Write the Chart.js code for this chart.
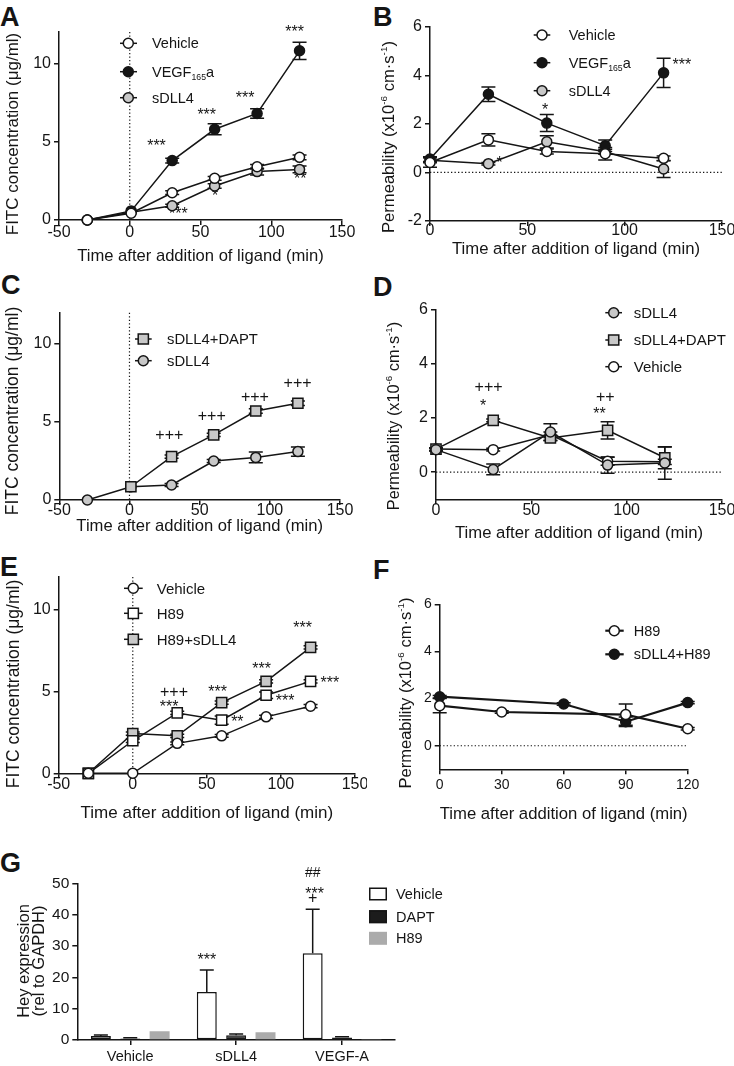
<!DOCTYPE html>
<html><head><meta charset="utf-8">
<script src="https://cdn.jsdelivr.net/npm/chart.js@4.4.1/dist/chart.umd.min.js"></script>
<style>
html,body{margin:0;padding:0;background:#fff;}
body{position:relative;width:734px;height:1066px;overflow:hidden;}
canvas{position:absolute;}
.pl{position:absolute;font:bold 27px/27px "Liberation Sans",Arial,sans-serif;color:#151515;}
</style></head><body>
<div class="pl" style="left:0px;top:3.5px">A</div>
<div class="pl" style="left:373px;top:3.5px">B</div>
<div class="pl" style="left:1px;top:271.5px">C</div>
<div class="pl" style="left:373px;top:273.5px">D</div>
<div class="pl" style="left:0px;top:554px">E</div>
<div class="pl" style="left:373px;top:557px">F</div>
<div class="pl" style="left:0px;top:850px">G</div>
<canvas id="cA"></canvas><canvas id="cB"></canvas>
<canvas id="cC"></canvas><canvas id="cD"></canvas>
<canvas id="cE"></canvas><canvas id="cF"></canvas>
<canvas id="cG"></canvas>
<script>
// ================= DATA =================
const TIME_A = [-30, 1, 30, 60, 90, 120];
const TIME_C = [-30, 1, 30, 60, 90, 120];
const TIME_E = [-30, 0, 30, 60, 90, 120];
const TIME_PERM = [0, 30, 60, 90, 120];
const X_TICKS_FITC = [-50, 0, 50, 100, 150];
const X_TICKS_PERM = [0, 50, 100, 150];
const X_TICKS_F = [0, 30, 60, 90, 120];
const Y_TICKS_FITC = [0, 5, 10];
const Y_TICKS_B = [-2, 0, 2, 4, 6];
const Y_TICKS_PERM = [0, 2, 4, 6];
const Y_TICKS_G = [0, 10, 20, 30, 40, 50];

// Panel A: FITC concentration (ug/ml)
const A_vehicle    = [0, 0.43, 1.74, 2.66, 3.40, 4.00];
const A_vehicleErr = [0, 0, 0.12, 0.12, 0.15, 0.15];
const A_vegf       = [0, 0.58, 3.79, 5.79, 6.80, 10.80];
const A_vegfErr    = [0, 0, 0.15, 0.35, 0.30, 0.55];
const A_sdll4      = [0, 0.50, 0.91, 2.17, 3.09, 3.23];
const A_sdll4Err   = [0, 0, 0.10, 0.15, 0.22, 0.22];
const A_sig = [[18.9, 4.89, '***'], [54.4, 6.91, '***'], [81.5, 7.98, '***'], [116.5, 12.2, '***'],
               [34.3, 0.60, '***'], [60.3, 1.74, '*'], [120.5, 2.83, '**']];

// Panel B: permeability
const B_vehicle    = [0.41, 1.34, 0.86, 0.77, 0.58];
const B_vehicleErr = [0.20, 0.25, 0.10, 0.26, 0.10];
const B_vegf       = [0.55, 3.22, 2.03, 1.10, 4.10];
const B_vegfErr    = [0.10, 0.30, 0.35, 0.24, 0.60];
const B_sdll4      = [0.50, 0.36, 1.26, 0.85, 0.14];
const B_sdll4Err   = [0.10, 0.05, 0.25, 0.10, 0.35];
const B_sig = [[59.1, 2.71, '*'], [35.7, 0.49, '*'], [129.4, 4.56, '***']];

// Panel C
const C_dapt     = [null, 0.85, 2.78, 4.17, 5.70, 6.20];
const C_daptErr  = [0, 0, 0.10, 0.10, 0.15, 0.15];
const C_sdll4    = [0, 0.85, 0.96, 2.50, 2.73, 3.10];
const C_sdll4Err = [0, 0, 0.10, 0.10, 0.35, 0.30];
const C_sig = [[28.4, 4.12, '+++'], [58.6, 5.34, '+++'], [89.4, 6.56, '+++'], [119.8, 7.48, '+++']];

// Panel D
const D_sdll4      = [0.83, 0.10, 1.48, 0.26, 0.34];
const D_sdll4Err   = [0.05, 0.20, 0.30, 0.30, 0.60];
const D_dapt       = [0.85, 1.91, 1.26, 1.54, 0.53];
const D_daptErr    = [0.05, 0.05, 0.10, 0.32, 0.40];
const D_vehicle    = [0.85, 0.83, 1.38, 0.40, 0.38];
const D_vehicleErr = [0.05, 0.05, 0.10, 0.15, 0.10];
const D_sig = [[27.6, 3.10, '+++'], [24.7, 2.55, '*'], [88.8, 2.73, '++'], [85.7, 2.24, '**']];

// Panel E
const E_vehicle    = [0, 0, 1.83, 2.29, 3.45, 4.10];
const E_vehicleErr = [0, 0, 0.08, 0.08, 0.10, 0.10];
const E_h89        = [0, 1.99, 3.69, 3.25, 4.77, 5.62];
const E_h89Err     = [0, 0.10, 0.10, 0.25, 0.20, 0.10];
const E_h89s       = [0, 2.43, 2.29, 4.32, 5.62, 7.70];
const E_h89sErr    = [0, 0.10, 0.10, 0.10, 0.10, 0.10];
const E_sig = [[27.8, 4.91, '+++'], [24.5, 4.26, '***'], [57.3, 5.17, '***'], [70.6, 3.31, '**'],
               [87.0, 6.53, '***'], [102.8, 4.62, '***'], [114.7, 9.09, '***'], [133.1, 5.68, '***']];

// Panel F
const F_h89Time  = [0, 30, 90, 120];
const F_h89      = [1.70, 1.43, 1.32, 0.72];
const F_h89Err   = [0.30, 0.05, 0.45, 0.05];
const F_shTime   = [0, 60, 90, 120];
const F_sh       = [2.08, 1.77, 1.02, 1.83];
const F_shErr    = [0.05, 0.05, 0.20, 0.05];

// Panel G: Hey expression
const G_categories  = ['Vehicle', 'sDLL4', 'VEGF-A'];
const G_vehicle     = [1.3, 15.3, 27.7];
const G_vehicleErr  = [0.3, 7.0, 14.0];
const G_dapt        = [0.5, 1.5, 0.8];
const G_daptErr     = [0.2, 0.4, 0.2];
const G_h89         = [2.8, 2.5, 0.3];
const G_h89Err      = [0, 0, 0];
const G_sig = [[1, 0, 26.6, '***', 0], [2, 0, 45.0, '+', 0], [2, 0, 47.6, '***', 2], [2, 0, 53.2, '##', 0]];

// ================= STYLE / HELPERS =================
const INK = '#151515';
const GRAY = '#c8c8c8';
const FONT = '"Liberation Sans", Arial, sans-serif';

function parseRich(s) {
  const parts = []; const re = /([_^])\{([^}]*)\}/g; let last = 0, m;
  while ((m = re.exec(s))) {
    if (m.index > last) parts.push({t: s.slice(last, m.index), k: ''});
    parts.push({t: m[2], k: m[1]}); last = re.lastIndex;
  }
  if (last < s.length) parts.push({t: s.slice(last), k: ''});
  return parts;
}
function drawRich(ctx, s, x, y, size, align) {
  const parts = parseRich(s);
  const fnt = k => (k ? size * 0.6 : size) + 'px ' + FONT;
  let total = 0;
  parts.forEach(p => { ctx.font = fnt(p.k); p.w = ctx.measureText(p.t).width; total += p.w; });
  let cx = align === 'center' ? x - total / 2 : x;
  ctx.textAlign = 'left'; ctx.textBaseline = 'alphabetic';
  const base = y + size * 0.35;
  parts.forEach(p => {
    ctx.font = fnt(p.k);
    const dy = p.k === '_' ? size * 0.2 : p.k === '^' ? -size * 0.4 : 0;
    ctx.fillText(p.t, cx, base + dy); cx += p.w;
  });
}
function drawMark(ctx, t, x, y, size) {
  ctx.font = size + 'px ' + FONT; ctx.textAlign = 'center'; ctx.textBaseline = 'middle';
  const off = /^\*+$/.test(t) ? size * 0.22 : 0;
  ctx.fillText(t, x, y + off);
}
function errBar(ctx, x, y1, y2, cap) {
  ctx.beginPath(); ctx.moveTo(x, y1); ctx.lineTo(x, y2);
  ctx.moveTo(x - cap, y1); ctx.lineTo(x + cap, y1);
  ctx.moveTo(x - cap, y2); ctx.lineTo(x + cap, y2);
  ctx.stroke();
}

function axisCfg(kind, range, ticks, size, pad, fsize) {
  return {
    type: 'linear', min: range[0], max: range[1],
    afterBuildTicks: s => { s.ticks = ticks.map(v => ({value: v})); },
    afterFit: s => { if (kind === 'x') s.height = size; else s.width = size; },
    grid: {display: true, drawOnChartArea: false, drawTicks: true, tickLength: 5, color: INK, lineWidth: 1.5},
    border: {display: true, color: INK, width: 1.5},
    ticks: {color: INK, font: {family: FONT, size: fsize, lineHeight: 1}, padding: pad,
            maxRotation: 0, autoSkip: false, callback: v => String(v)}
  };
}

function makePlugin(P) {
  return {
    id: 'panel' + P.id,
    beforeDatasetsDraw(chart) {
      const ctx = chart.ctx, xs = chart.scales.x, ys = chart.scales.y, ca = chart.chartArea;
      ctx.save();
      ctx.strokeStyle = INK; ctx.fillStyle = INK;
      if (P.ref) {
        ctx.save(); ctx.lineWidth = 1.2; ctx.setLineDash([1.3, 2.2]); ctx.beginPath();
        if (P.ref === 'v') { const px = xs.getPixelForValue(0); ctx.moveTo(px, ca.top); ctx.lineTo(px, ca.bottom); }
        else { const py = ys.getPixelForValue(0); ctx.moveTo(ca.left, py); ctx.lineTo(ca.right, py); }
        ctx.stroke(); ctx.restore();
      }
      ctx.lineWidth = 1.5;
      chart.data.datasets.forEach((ds, di) => {
        if (!ds.err) return;
        const meta = chart.getDatasetMeta(di);
        meta.data.forEach((el, i) => {
          const e = ds.err[i]; if (!e) return;
          const raw = ds.data[i]; const v = (typeof raw === 'object' && raw !== null) ? raw.y : raw;
          if (v === null || v === undefined) return;
          const top = ys.getPixelForValue(v + e);
          const bot = ys.getPixelForValue(P.oneSided ? v : v - e);
          if (P.oneSided) {
            ctx.beginPath(); ctx.moveTo(el.x, bot); ctx.lineTo(el.x, top);
            ctx.moveTo(el.x - P.cap, top); ctx.lineTo(el.x + P.cap, top); ctx.stroke();
          } else errBar(ctx, el.x, top, bot, P.cap);
        });
      });
      (P.sig || []).forEach(s => {
        if (P.bar) {
          const el = chart.getDatasetMeta(s[1]).data[s[0]];
          drawMark(ctx, s[3], el.x + (s[4] || 0), ys.getPixelForValue(s[2]), s[3] === '##' ? 14 : 16);
        } else {
          drawMark(ctx, s[2], xs.getPixelForValue(s[0]), ys.getPixelForValue(s[1]), 16);
        }
      });
      ctx.restore();
    },
    afterDraw(chart) {
      const ctx = chart.ctx, ca = chart.chartArea;
      const bx = P.box[0], by = P.box[1];
      ctx.save(); ctx.fillStyle = INK;
      P.yTitles.forEach(t => {
        ctx.save(); ctx.translate(t.x - bx, t.y - by); ctx.rotate(-Math.PI / 2);
        drawRich(ctx, t.text, 0, 0, t.size, 'center'); ctx.restore();
      });
      if (P.xTitle) drawRich(ctx, P.xTitle.text, (ca.left + ca.right) / 2, P.xTitle.y - by, P.xTitle.size, 'center');
      const L = P.legend;
      L.rows.forEach((ry, k) => {
        const ds = chart.data.datasets[L.order[k]];
        const y = ry - by;
        if (P.bar) {
          ctx.fillStyle = ds.backgroundColor;
          ctx.fillRect(L.x0 - bx, y - 6.5, L.x1 - L.x0, 13);
          if (ds.borderWidth) { ctx.strokeStyle = INK; ctx.lineWidth = 1.5; ctx.strokeRect(L.x0 - bx + 0.75, y - 5.75, L.x1 - L.x0 - 1.5, 11.5); }
        } else {
          ctx.strokeStyle = ds.borderColor; ctx.lineWidth = ds.borderWidth;
          ctx.beginPath(); ctx.moveTo(L.x0 - bx, y); ctx.lineTo(L.x1 - bx, y); ctx.stroke();
          ctx.fillStyle = ds.pointBackgroundColor; ctx.strokeStyle = ds.pointBorderColor; ctx.lineWidth = ds.pointBorderWidth;
          Chart.helpers.drawPoint(ctx, {pointStyle: ds.pointStyle, radius: ds.pointRadius, rotation: 0, borderWidth: ds.pointBorderWidth}, L.xm - bx, y);
        }
        ctx.fillStyle = INK;
        drawRich(ctx, L.labels[k], L.tx - bx, y, L.size, 'left');
      });
      ctx.restore();
    }
  };
}

function makeLine(P) {
  const cv = document.getElementById(P.id);
  const [bx, by, bw, bh] = P.box;
  cv.width = bw; cv.height = bh; cv.style.left = bx + 'px'; cv.style.top = by + 'px';
  const W = P.area.l - bx, H = by + bh - P.area.b;
  const datasets = P.series.map(s => ({
    label: s.label,
    data: s.x.map((x, i) => ({x: x, y: s.y[i]})),
    err: s.err, clip: false,
    borderColor: INK, borderWidth: P.lw,
    pointStyle: s.shape, pointRadius: s.shape === 'rect' ? 7.2 : 5,
    pointBackgroundColor: s.fill, pointBorderColor: INK, pointBorderWidth: 1.5,
    tension: 0, fill: false
  }));
  new Chart(cv, {
    type: 'line', data: {datasets},
    options: {
      responsive: false, animation: false, events: [], devicePixelRatio: 1,
      layout: {padding: {left: 0, top: P.area.t - by, right: bx + bw - P.area.r, bottom: 0}},
      plugins: {legend: {display: false}, tooltip: {enabled: false}},
      scales: {
        x: axisCfg('x', P.xr, P.xt, H, P.xpad, P.tf),
        y: axisCfg('y', P.yr, P.yt, W, 3, P.tf)
      }
    },
    plugins: [makePlugin(P)]
  });
}

const FITC_T = 'FITC concentration (μg/ml)';
const PERM_T = 'Permeability (x10^{-6} cm·s^{-1})';
const TIME_T = 'Time after addition of ligand (min)';

makeLine({id: 'cA', box: [0, 0, 367, 270], area: {l: 59, t: 32, r: 342, b: 220},
  xr: [-50, 150], xt: X_TICKS_FITC, yr: [0, 12], yt: Y_TICKS_FITC, xpad: 0, tf: 16, lw: 1.5, cap: 7, ref: 'v',
  yTitles: [{x: 12, y: 134, text: FITC_T, size: 17}], xTitle: {y: 255.5, text: TIME_T, size: 16.6},
  series: [
    {label: 'Vehicle', x: TIME_A, y: A_vehicle, err: A_vehicleErr, shape: 'circle', fill: '#fff'},
    {label: 'VEGF165a', x: TIME_A, y: A_vegf, err: A_vegfErr, shape: 'circle', fill: INK},
    {label: 'sDLL4', x: TIME_A, y: A_sdll4, err: A_sdll4Err, shape: 'circle', fill: GRAY}],
  legend: {x0: 120, x1: 137, xm: 128.3, tx: 152, size: 14.5, rows: [43.3, 71.7, 97.7], order: [0, 1, 2],
    labels: ['Vehicle', 'VEGF_{165}a', 'sDLL4']},
  sig: A_sig});

makeLine({id: 'cB', box: [367, 0, 367, 270], area: {l: 430, t: 26.7, r: 722, b: 221},
  xr: [0, 150], xt: X_TICKS_PERM, yr: [-2, 6], yt: Y_TICKS_B, xpad: -3, tf: 16, lw: 1.5, cap: 7, ref: 'h',
  yTitles: [{x: 388, y: 137, text: PERM_T, size: 16.6}], xTitle: {y: 248, text: TIME_T, size: 16.7},
  series: [
    {label: 'Vehicle', x: TIME_PERM, y: B_vehicle, err: B_vehicleErr, shape: 'circle', fill: '#fff'},
    {label: 'VEGF165a', x: TIME_PERM, y: B_vegf, err: B_vegfErr, shape: 'circle', fill: INK},
    {label: 'sDLL4', x: TIME_PERM, y: B_sdll4, err: B_sdll4Err, shape: 'circle', fill: GRAY}],
  legend: {x0: 533.7, x1: 550.3, xm: 542, tx: 568.7, size: 14.5, rows: [35, 62.7, 90.7], order: [0, 1, 2],
    labels: ['Vehicle', 'VEGF_{165}a', 'sDLL4']},
  sig: B_sig});

makeLine({id: 'cC', box: [0, 270, 367, 275], area: {l: 59.3, t: 312.7, r: 340, b: 500},
  xr: [-50, 150], xt: X_TICKS_FITC, yr: [0, 12], yt: Y_TICKS_FITC, xpad: -2, tf: 16, lw: 1.5, cap: 7, ref: 'v',
  yTitles: [{x: 12, y: 411, text: FITC_T, size: 17.5}], xTitle: {y: 525, text: TIME_T, size: 16.6},
  series: [
    {label: 'sDLL4+DAPT', x: TIME_C, y: C_dapt, err: C_daptErr, shape: 'rect', fill: GRAY},
    {label: 'sDLL4', x: TIME_C, y: C_sdll4, err: C_sdll4Err, shape: 'circle', fill: GRAY}],
  legend: {x0: 135, x1: 151.7, xm: 143.3, tx: 167, size: 14.8, rows: [339, 360.7], order: [0, 1],
    labels: ['sDLL4+DAPT', 'sDLL4']},
  sig: C_sig});

makeLine({id: 'cD', box: [367, 270, 367, 275], area: {l: 436, t: 309.3, r: 722, b: 499.3},
  xr: [0, 150], xt: X_TICKS_PERM, yr: [-1, 6], yt: Y_TICKS_PERM, xpad: -1.5, tf: 16, lw: 1.5, cap: 7, ref: 'h',
  yTitles: [{x: 393, y: 416, text: PERM_T, size: 16.3}], xTitle: {y: 531.7, text: TIME_T, size: 16.7},
  series: [
    {label: 'sDLL4', x: TIME_PERM, y: D_sdll4, err: D_sdll4Err, shape: 'circle', fill: GRAY},
    {label: 'sDLL4+DAPT', x: TIME_PERM, y: D_dapt, err: D_daptErr, shape: 'rect', fill: GRAY},
    {label: 'Vehicle', x: TIME_PERM, y: D_vehicle, err: D_vehicleErr, shape: 'circle', fill: '#fff'}],
  legend: {x0: 605.3, x1: 622, xm: 613.7, tx: 633.7, size: 15, rows: [312.7, 340, 366.7], order: [0, 1, 2],
    labels: ['sDLL4', 'sDLL4+DAPT', 'Vehicle']},
  sig: D_sig});

makeLine({id: 'cE', box: [0, 545, 367, 280], area: {l: 58.7, t: 577, r: 355, b: 773.3},
  xr: [-50, 150], xt: X_TICKS_FITC, yr: [0, 12], yt: Y_TICKS_FITC, xpad: -2, tf: 16, lw: 1.5, cap: 7, ref: 'v',
  yTitles: [{x: 12.5, y: 684, text: FITC_T, size: 17.5}], xTitle: {y: 811.7, text: TIME_T, size: 17},
  series: [
    {label: 'Vehicle', x: TIME_E, y: E_vehicle, err: E_vehicleErr, shape: 'circle', fill: '#fff'},
    {label: 'H89', x: TIME_E, y: E_h89, err: E_h89Err, shape: 'rect', fill: '#fff'},
    {label: 'H89+sDLL4', x: TIME_E, y: E_h89s, err: E_h89sErr, shape: 'rect', fill: GRAY}],
  legend: {x0: 124, x1: 142.7, xm: 133.3, tx: 156.7, size: 15, rows: [588.3, 613.3, 639.3], order: [0, 1, 2],
    labels: ['Vehicle', 'H89', 'H89+sDLL4']},
  sig: E_sig});

makeLine({id: 'cF', box: [367, 545, 367, 280], area: {l: 439.7, t: 604.3, r: 687.7, b: 769.3},
  xr: [0, 120], xt: X_TICKS_F, yr: [-1, 6], yt: Y_TICKS_PERM, xpad: 3.5, tf: 14, lw: 2.2, cap: 7, ref: 'h',
  yTitles: [{x: 405, y: 693, text: PERM_T, size: 16.5}], xTitle: {y: 813.3, text: TIME_T, size: 16.7},
  series: [
    {label: 'H89', x: F_h89Time, y: F_h89, err: F_h89Err, shape: 'circle', fill: '#fff'},
    {label: 'sDLL4+H89', x: F_shTime, y: F_sh, err: F_shErr, shape: 'circle', fill: INK}],
  legend: {x0: 605.3, x1: 623.7, xm: 614.3, tx: 633.7, size: 14.5, rows: [630.7, 654.3], order: [0, 1],
    labels: ['H89', 'sDLL4+H89']},
  sig: []});

// Panel G bar chart
(function () {
  const P = {id: 'cG', box: [0, 830, 734, 236], area: {l: 77.3, t: 883.3, r: 395, b: 1040}, bar: true, oneSided: true, cap: 7,
    yTitles: [{x: 23, y: 961, text: 'Hey expression', size: 16.5}, {x: 38.5, y: 961, text: '(rel to GAPDH)', size: 16.5}],
    legend: {x0: 369, x1: 387, tx: 396, size: 14.5, rows: [894, 916.7, 938.3], order: [0, 1, 2],
      labels: ['Vehicle', 'DAPT', 'H89']},
    sig: G_sig};
  const cv = document.getElementById(P.id);
  const [bx, by, bw, bh] = P.box;
  cv.width = bw; cv.height = bh; cv.style.left = bx + 'px'; cv.style.top = by + 'px';
  const W = P.area.l - bx, H = by + bh - P.area.b;
  const common = {categoryPercentage: 0.832, barPercentage: 0.68, borderSkipped: false};
  new Chart(cv, {
    type: 'bar',
    data: {labels: G_categories, datasets: [
      Object.assign({label: 'Vehicle', data: G_vehicle, err: G_vehicleErr, backgroundColor: '#fff', borderColor: INK, borderWidth: 1.5}, common),
      Object.assign({label: 'DAPT', data: G_dapt, err: G_daptErr, backgroundColor: '#1c1c1c', borderColor: '#1c1c1c', borderWidth: 1.5}, common),
      Object.assign({label: 'H89', data: G_h89, err: G_h89Err, backgroundColor: '#ababab', borderWidth: 0}, common)
    ]},
    options: {
      responsive: false, animation: false, events: [], devicePixelRatio: 1,
      layout: {padding: {left: 0, top: P.area.t - by, right: bx + bw - P.area.r, bottom: 0}},
      plugins: {legend: {display: false}, tooltip: {enabled: false}},
      scales: {
        x: {type: 'category', afterFit: s => { s.height = H; },
            grid: {display: true, offset: false, drawOnChartArea: false, drawTicks: true, tickLength: 5, color: INK, lineWidth: 1.5},
            border: {display: true, color: INK, width: 1.5},
            ticks: {color: INK, font: {family: FONT, size: 14.5, lineHeight: 1}, padding: 5, maxRotation: 0, autoSkip: false}},
        y: axisCfg('y', [0, 50], Y_TICKS_G, W, 3, 15.5)
      }
    },
    plugins: [makePlugin(P)]
  });
})();
</script>
</body></html>
